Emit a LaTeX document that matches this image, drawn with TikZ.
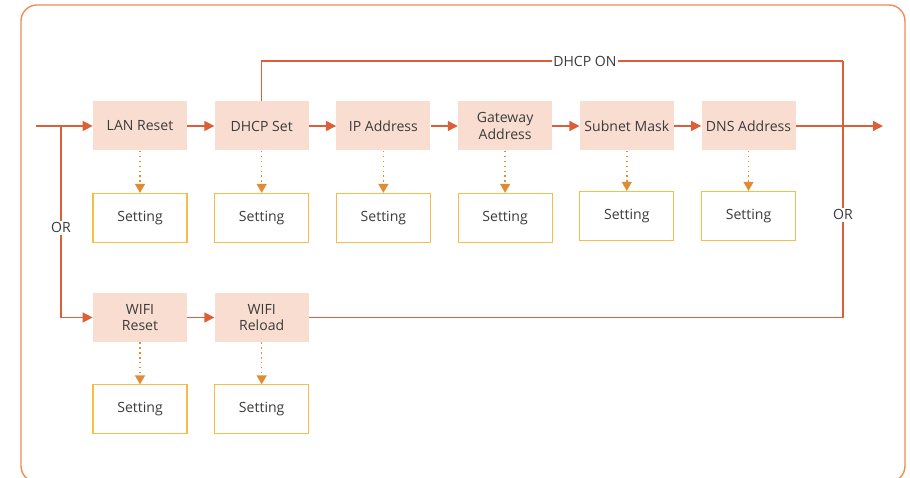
\documentclass[tikz,border=0pt]{standalone}
\usepackage{fontspec}
\setmainfont{Open Sans}
\usetikzlibrary{arrows.meta,positioning,calc}
\definecolor{fr}{RGB}{240,140,85}
\definecolor{ln}{RGB}{220,95,55}
\definecolor{pk}{RGB}{249,221,209}
\definecolor{dt}{RGB}{224,140,50}
\definecolor{sb}{RGB}{246,190,70}
\definecolor{tx}{RGB}{60,60,60}

\begin{document}
\begin{tikzpicture}[
    proc/.style={rectangle,fill=pk,minimum width=1.88cm,minimum height=0.98cm,align=center,font=\fontsize{8}{9.5}\selectfont,text=tx,inner sep=1pt},
    sett/.style={rectangle,draw=sb,line width=0.6pt,fill=white,minimum width=1.88cm,minimum height=0.98cm,font=\fontsize{8}{9.5}\selectfont,text=tx},
    arr/.style={-{Triangle[length=2mm,width=2mm]},draw=ln,line width=0.8pt},
    ln/.style={draw=ln,line width=0.8pt},
    dot/.style={-{Triangle[length=1.8mm,width=2mm]},draw=dt,dotted,line width=0.8pt},
    lbl/.style={fill=white,font=\fontsize{8}{9.5}\selectfont,text=tx,inner sep=1pt},
    node distance=0.55cm and 0.54cm,
]
\useasboundingbox (0,0) rectangle (18.2,9.56);
\draw[fr,line width=0.8pt,rounded corners=0.32cm] (0.42,-0.08) rectangle (18.1,9.46);

% top row
\node[proc] (lan) at (2.80,7.04) {LAN Reset};
\node[proc,right=of lan] (dhcp) {DHCP Set};
\node[proc,right=of dhcp] (ip) {IP Address};
\node[proc,right=of ip] (gw) {Gateway\\Address};
\node[proc,right=of gw] (mask) {Subnet Mask};
\node[proc,right=of mask] (dns) {DNS Address};

% bottom row
\node[proc] (wreset) at (2.80,3.21) {WIFI\\Reset};
\node[proc,right=of wreset] (wreload) {WIFI\\Reload};

% setting boxes
\foreach \n in {lan,dhcp,ip,gw,wreset,wreload}{
  \node[sett,below=0.84cm of \n] (s\n) {Setting};
  \draw[dot] (\n) -- (s\n);
}
\foreach \n in {mask,dns}{
  \node[sett,below=0.80cm of \n] (s\n) {Setting};
  \draw[dot] (\n) -- (s\n);
}

\coordinate (in) at (0.72,7.04);
\coordinate (br) at (1.22,7.04);
\coordinate (out) at (17.66,7.04);
\coordinate (ne) at (16.86,8.34);

\draw[arr] (in) -- (lan);
\draw[arr] (lan) -- (dhcp);
\draw[arr] (dhcp) -- (ip);
\draw[arr] (ip) -- (gw);
\draw[arr] (gw) -- (mask);
\draw[arr] (mask) -- (dns);
\draw[arr] (dns) -- (out);
\draw[arr] (br) |- node[pos=0.266,lbl]{OR} (wreset);
\draw[arr] (wreset) -- (wreload);

\draw[ln] (dhcp.north) |- node[pos=0.778,lbl]{DHCP ON} (ne);
\draw[ln] (ne) -- node[pos=0.6,lbl]{OR} (ne |- wreload) -- (wreload.east);
\end{tikzpicture}
\end{document}
